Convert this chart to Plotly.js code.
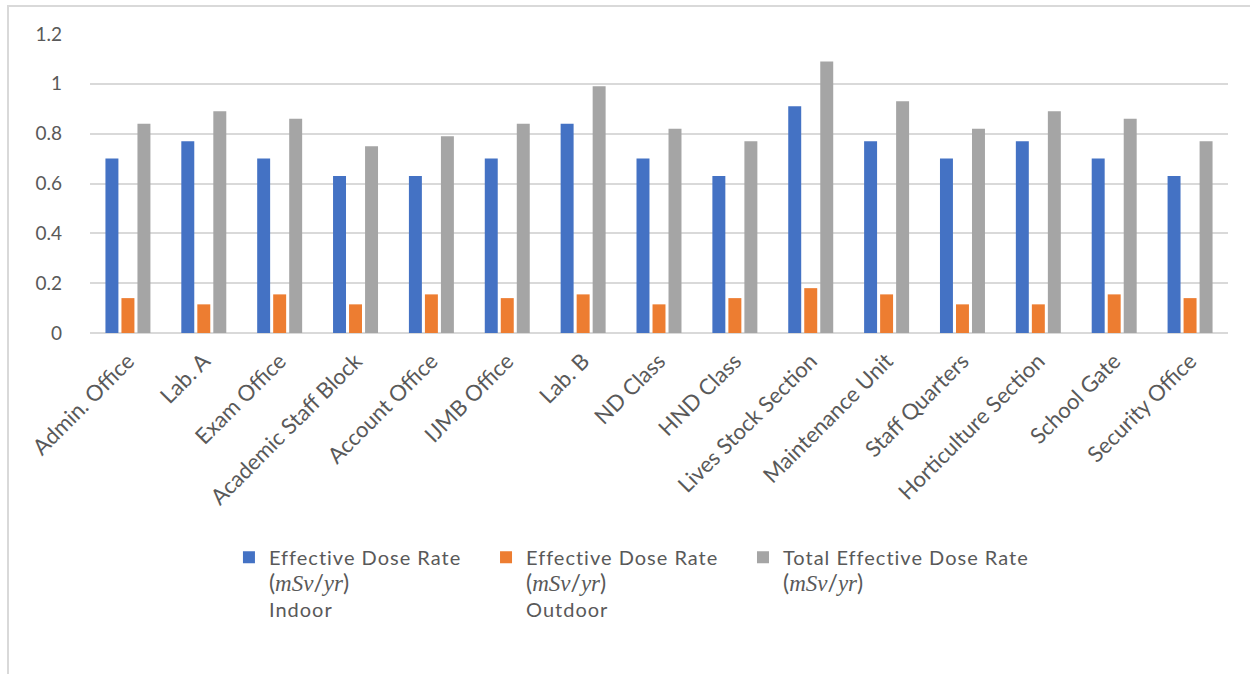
<!DOCTYPE html>
<html>
<head>
<meta charset="utf-8">
<script src="https://cdn.plot.ly/plotly-3.0.1.min.js"></script>
<style>
  html, body { margin: 0; padding: 0; background: #fff; }
  #frame { position: absolute; left: 7px; top: 5px; width: 1243px; height: 669px;
           border-left: 2px solid #d9d9d9; border-top: 2px solid #d9d9d9; box-sizing: border-box; }
  #chart { position: absolute; left: 0; top: 0; width: 1250px; height: 674px; }
</style>
</head>
<body>
<div id="frame"></div>
<div id="chart"></div>
<script>
const categories = ["Admin. Office", "Lab. A", "Exam Office", "Academic Staff Block", "Account Office",
  "IJMB Office", "Lab. B", "ND Class", "HND Class", "Lives Stock Section", "Maintenance Unit",
  "Staff Quarters", "Horticulture Section", "School Gate", "Security Office"];
const indoor  = [0.70, 0.77, 0.70, 0.63, 0.63, 0.70, 0.84, 0.70, 0.63, 0.91, 0.77, 0.70, 0.77, 0.70, 0.63];
const outdoor = [0.14, 0.115, 0.155, 0.115, 0.155, 0.14, 0.155, 0.115, 0.14, 0.18, 0.155, 0.115, 0.115, 0.155, 0.14];
const total   = [0.84, 0.89, 0.86, 0.75, 0.79, 0.84, 0.99, 0.82, 0.77, 1.09, 0.93, 0.82, 0.89, 0.86, 0.77];
const yTicks  = [0, 0.2, 0.4, 0.6, 0.8, 1, 1.2];
const yTickText = ["0", "0.2", "0.4", "0.6", "0.8", "1", "1.2"];

const ls = "letter-spacing:1px";
const unit = "<span style='font-size:23px'>(<i style='font-family:\"Liberation Serif\"'>mSv</i>/<i style='font-family:\"Liberation Serif\"'>yr</i>)</span>";
const names = [
  "<span style='" + ls + "'>Effective Dose Rate</span><br>" + unit + "<br><span style='" + ls + "'>Indoor</span>",
  "<span style='" + ls + "'>Effective Dose Rate</span><br>" + unit + "<br><span style='" + ls + "'>Outdoor</span>",
  "<span style='" + ls + "'>Total Effective Dose Rate</span><br>" + unit
];
const colors = ["#4472c4", "#ed7d31", "#a5a5a5"];
const legendIds = ["legend", "legend2", "legend3"];
const series = [indoor, outdoor, total];

const data = series.map((vals, i) => ({
  type: "bar", x: categories, y: vals, name: names[i], legend: legendIds[i],
  marker: { color: colors[i] }, hoverinfo: "x+y"
}));

const txt = "#595959";
const legendBase = (x) => ({
  orientation: "h", x: x, xanchor: "left", y: -0.685, yanchor: "top",
  font: { size: 20, color: txt }, valign: "top", itemwidth: 30, bgcolor: "rgba(0,0,0,0)"
});
const layout = {
  width: 1250, height: 674,
  paper_bgcolor: "rgba(0,0,0,0)", plot_bgcolor: "rgba(0,0,0,0)",
  margin: { l: 90, r: 22, t: 34, b: 341 },
  font: { family: "Lato, 'Noto Sans', sans-serif", color: txt, size: 20 },
  barmode: "group", bargap: 0.367, bargroupgap: 0.19,
  xaxis: {
    type: "category", tickangle: -45, tickfont: { size: 22, color: txt },
    showgrid: false, showline: false, ticks: "", zeroline: false,
    ticklabelstandoff: 10
  },
  yaxis: {
    range: [0, 1.2], tickvals: yTicks, ticktext: yTickText,
    tickfont: { size: 19, color: txt }, showgrid: true, gridcolor: "#d9d9d9", gridwidth: 2,
    zeroline: true, zerolinecolor: "#d9d9d9", zerolinewidth: 2,
    showline: false, ticks: "", ticklabelstandoff: 27
  },
  showlegend: true,
  legend: legendBase(0.1221),
  legend2: legendBase(0.348),
  legend3: legendBase(0.5738)
};

Plotly.newPlot("chart", data, layout, { displayModeBar: false, staticPlot: true });
</script>
</body>
</html>
